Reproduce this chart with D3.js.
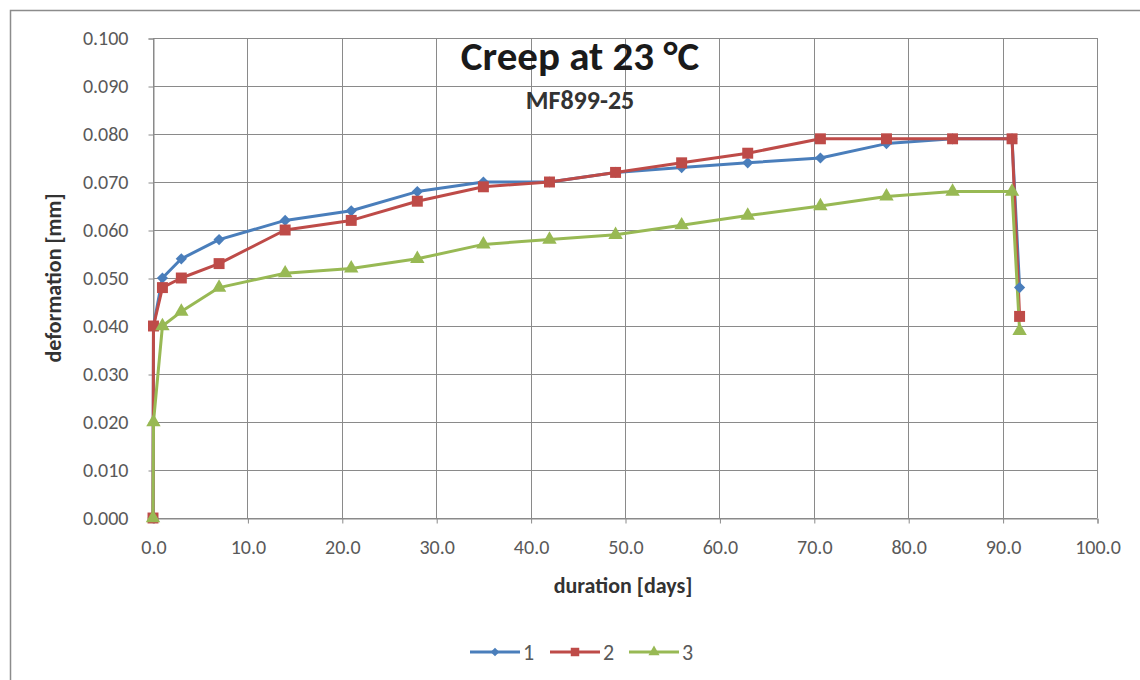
<!DOCTYPE html>
<html><head><meta charset="utf-8">
<script src="https://cdn.jsdelivr.net/npm/d3@7"></script>
<style>
body{margin:0;background:#fff;}
text{font-family:Carlito, Lato, "Open Sans", sans-serif;}
</style></head>
<body>
<svg id="c" width="1140" height="680"></svg>
<script>
const days = [0, 0.05, 1, 3, 7, 14, 21, 28, 35, 42, 49, 56, 63, 70.7, 77.7, 84.7, 91.0, 91.8];
const series1 = [0.000, 0.040, 0.050, 0.054, 0.058, 0.062, 0.064, 0.068, 0.070, 0.070, 0.072, 0.073, 0.074, 0.075, 0.078, 0.079, 0.079, 0.048];
const series2 = [0.000, 0.040, 0.048, 0.050, 0.053, 0.060, 0.062, 0.066, 0.069, 0.070, 0.072, 0.074, 0.076, 0.079, 0.079, 0.079, 0.079, 0.042];
const series3 = [0.000, 0.020, 0.040, 0.043, 0.048, 0.051, 0.052, 0.054, 0.057, 0.058, 0.059, 0.061, 0.063, 0.065, 0.067, 0.068, 0.068, 0.039];
const seriesNames = ["1", "2", "3"];
const xTicks = [0, 10, 20, 30, 40, 50, 60, 70, 80, 90, 100];
const yTicks = [0, 0.01, 0.02, 0.03, 0.04, 0.05, 0.06, 0.07, 0.08, 0.09, 0.1];

const svg = d3.select("#c");
svg.append("rect").attr("x",10.5).attr("y",10.5).attr("width",1140).attr("height",680)
  .attr("fill","#fff").attr("stroke","#8c8c8c").attr("stroke-width",1.5);

const x = d3.scaleLinear().domain([0,100]).range([153,1097]);
const y = d3.scaleLinear().domain([0,0.1]).range([518,38]);

// grid
svg.append("g").selectAll("line").data(yTicks).join("line")
  .attr("x1",x(0)).attr("x2",x(100)).attr("y1",d=>Math.round(y(d))+0.5).attr("y2",d=>Math.round(y(d))+0.5)
  .attr("stroke","#8a8a8a").attr("stroke-width",1);
svg.append("g").selectAll("line").data(xTicks).join("line")
  .attr("y1",y(0)).attr("y2",y(0.1)).attr("x1",d=>Math.round(x(d))+0.5).attr("x2",d=>Math.round(x(d))+0.5)
  .attr("stroke","#8a8a8a").attr("stroke-width",1);

// axes
const yAxis = d3.axisLeft(y).tickValues(yTicks).tickFormat(d3.format(".3f")).tickSize(5).tickPadding(20);
const gy = svg.append("g").attr("transform","translate(153.5,0.5)").call(yAxis);
const xAxis = d3.axisBottom(x).tickValues(xTicks).tickFormat(d3.format(".1f")).tickSize(5).tickPadding(16);
const gx = svg.append("g").attr("transform","translate(0.5,518.5)").call(xAxis);
[gx,gy].forEach(g=>{
  g.select(".domain").attr("stroke","#8a8a8a");
  g.selectAll(".tick line").attr("stroke","#8a8a8a");
  g.selectAll(".tick text").attr("fill","#595959").style("font-size","20px").style("font-family","Carlito, Lato, sans-serif");
});

// titles
svg.append("text").attr("x",580).attr("y",70).attr("text-anchor","middle")
  .style("font-size","41px").style("font-weight","bold").attr("fill","#1a1a1a").text("Creep at 23 °C");
svg.append("text").attr("x",580).attr("y",109).attr("text-anchor","middle")
  .style("font-size","26px").style("font-weight","bold").attr("fill","#333").text("MF899-25");
svg.append("text").attr("x",623).attr("y",593).attr("text-anchor","middle")
  .style("font-size","22px").style("font-weight","bold").attr("fill","#333").text("duration [days]");
svg.append("text").attr("transform","translate(61,278) rotate(-90)").attr("text-anchor","middle")
  .style("font-size","22px").style("font-weight","bold").attr("fill","#333").text("deformation [mm]");

const colors = ["#4A7EBB","#BE4B48","#98B954"];
const symbols = [d3.symbolDiamond2, d3.symbolSquare, d3.symbolTriangle];
const symSizes = [80, 120, 90];
const all = [series1, series2, series3];
const line = d3.line().x((d,i)=>x(days[i])).y(d=>y(d));

all.forEach((s,k)=>{
  svg.append("path").datum(s).attr("d",line).attr("fill","none")
    .attr("stroke",colors[k]).attr("stroke-width",3).attr("stroke-linejoin","round");
});
all.forEach((s,k)=>{
  svg.append("g").selectAll("path").data(s).join("path")
    .attr("transform",(d,i)=>`translate(${x(days[i])},${y(d)})`)
    .attr("d",d3.symbol(symbols[k],symSizes[k])).attr("fill",colors[k]);
});

// legend
const legX = [470, 550, 629];
seriesNames.forEach((n,k)=>{
  const g = svg.append("g").attr("transform",`translate(${legX[k]},652)`);
  g.append("line").attr("x1",0).attr("x2",50).attr("stroke",colors[k]).attr("stroke-width",3);
  g.append("path").attr("transform","translate(25,0)").attr("d",d3.symbol(symbols[k],symSizes[k]*0.6)).attr("fill",colors[k]);
  g.append("text").attr("x",53).attr("y",8).style("font-size","22px").attr("fill","#595959").text(n);
});
</script>
</body></html>
